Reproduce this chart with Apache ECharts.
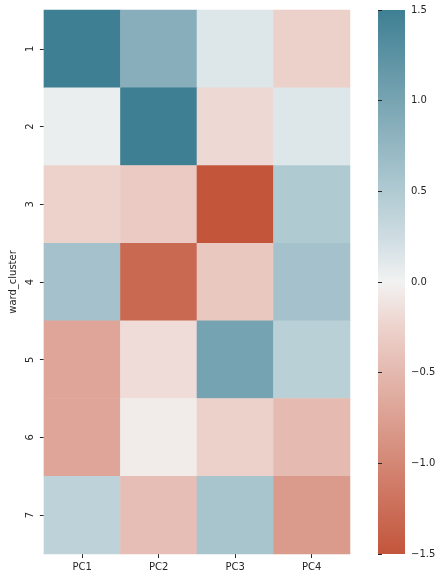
<!DOCTYPE html>
<html>
<head>
<meta charset="utf-8">
<script src="https://cdn.jsdelivr.net/npm/echarts@6/dist/echarts.min.js"></script>
<style>
  html, body { margin: 0; padding: 0; background: #fff; }
  #main { width: 443px; height: 579px; }
</style>
</head>
<body>
<div id="main"></div>
<script>
// columns and clusters
var components = ['PC1', 'PC2', 'PC3', 'PC4'];
var clusters = ['1', '2', '3', '4', '5', '6', '7'];

// one row per cluster
var row1 = [1.50, 0.87, 0.14, -0.27];
var row2 = [0.05, 1.50, -0.20, 0.14];
var row3 = [-0.25, -0.33, -1.50, 0.50];
var row4 = [0.60, -1.30, -0.35, 0.60];
var row5 = [-0.70, -0.17, 1.02, 0.42];
var row6 = [-0.70, -0.05, -0.27, -0.48];
var row7 = [0.38, -0.45, 0.57, -0.80];
var rows = [row1, row2, row3, row4, row5, row6, row7];

// colour bar ticks
var barTicks = [-1.5, -1.0, -0.5, 0.0, 0.5, 1.0, 1.5];

// diverging palette, evenly spaced from -1.5 to 1.5
var palette = ['#c3553b', '#cb6e58', '#d48775', '#dca092', '#e4b9af', '#edd2cc', '#f2f2f2',
               '#cddce1', '#b0cad2', '#94b7c2', '#78a4b2', '#5b92a3', '#3f7f93'];

var heatData = [];
for (var r = 0; r < rows.length; r++) {
    for (var c = 0; c < components.length; c++) {
        heatData.push([c, r, rows[r][c]]);
    }
}

var txt = '#262626';
var font = 'DejaVu Sans';

function fmt(v) {
    return v.toFixed(1).replace('-', '\u2212');
}

// gradient for the colour bar, top is the high end
var barStops = [];
for (var i = 0; i < palette.length; i++) {
    barStops.push({ offset: i / (palette.length - 1), color: palette[palette.length - 1 - i] });
}

var myChart = echarts.init(document.getElementById('main'));
var option = {
    backgroundColor: '#fff',
    animation: false,
    textStyle: { fontFamily: font },
    grid: [
        { left: 39, top: 10, width: 311, height: 544 },
        { left: 378, top: 10, width: 27, height: 544 }
    ],
    xAxis: [
        {
            type: 'category', gridIndex: 0, data: components, position: 'bottom',
            axisLine: { show: false },
            axisTick: { show: true, alignWithLabel: true, length: 4, lineStyle: { color: txt } },
            axisLabel: { color: txt, fontSize: 10, fontFamily: font, margin: 8 },
            splitLine: { show: false }
        },
        {
            type: 'value', gridIndex: 1, show: false, min: 0, max: 1
        }
    ],
    yAxis: [
        {
            type: 'category', gridIndex: 0, data: clusters, inverse: true,
            name: 'ward_cluster', nameLocation: 'middle', nameGap: 25,
            nameTextStyle: { color: txt, fontSize: 10, fontFamily: font },
            axisLine: { show: false },
            axisTick: { show: true, alignWithLabel: true, length: 4, lineStyle: { color: txt } },
            axisLabel: { color: txt, fontSize: 10, fontFamily: font, rotate: 90, margin: 8 },
            splitLine: { show: false }
        },
        {
            type: 'value', gridIndex: 1, position: 'right',
            min: barTicks[0], max: barTicks[barTicks.length - 1], interval: 0.5,
            axisLine: { show: false },
            axisTick: { show: true, length: 4, lineStyle: { color: txt } },
            axisLabel: { color: txt, fontSize: 10, fontFamily: font, margin: 6, formatter: fmt },
            splitLine: { show: false }
        }
    ],
    visualMap: {
        type: 'continuous',
        show: false,
        min: -1.5, max: 1.5,
        seriesIndex: 0,
        inRange: { color: palette }
    },
    graphic: [
        {
            type: 'rect',
            left: 378, top: 10,
            z: 0,
            shape: { width: 27, height: 544 },
            style: {
                fill: new echarts.graphic.LinearGradient(0, 0, 0, 1, barStops)
            }
        }
    ],
    series: [
        {
            type: 'heatmap',
            xAxisIndex: 0, yAxisIndex: 0,
            data: heatData,
            itemStyle: { borderWidth: 0 },
            emphasis: { disabled: true }
        }
    ]
};
myChart.setOption(option);
</script>
</body>
</html>
